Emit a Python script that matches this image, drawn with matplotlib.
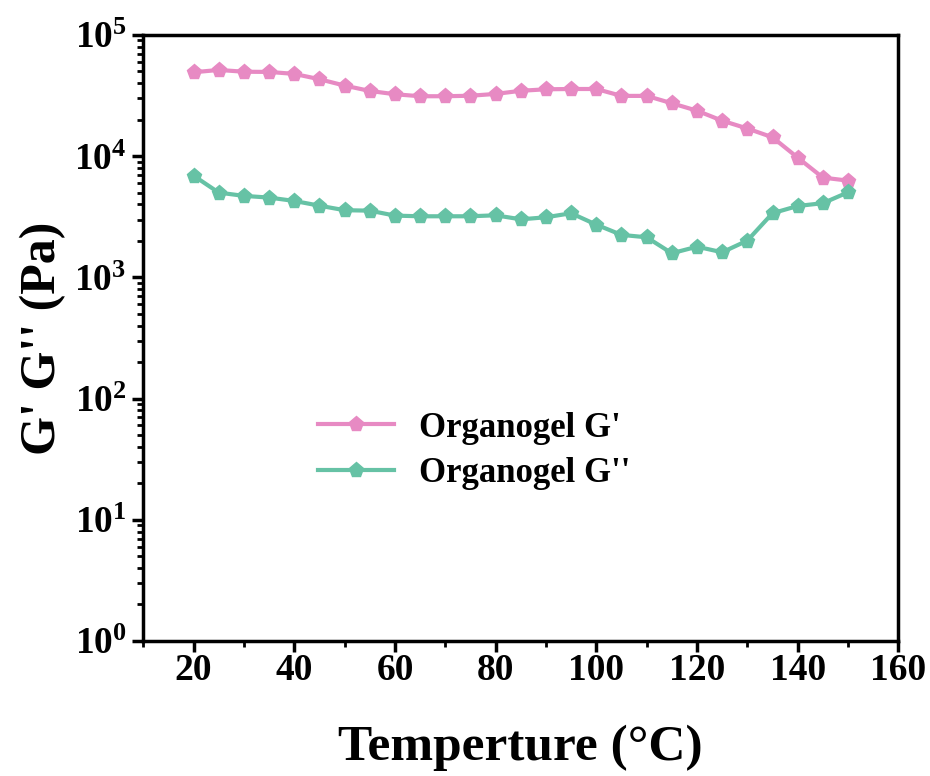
import matplotlib
matplotlib.use("Agg")
import matplotlib.pyplot as plt
from matplotlib.ticker import MultipleLocator, LogLocator, NullFormatter

temps = [20, 25, 30, 35, 40, 45, 50, 55, 60, 65, 70, 75, 80, 85,
         90, 95, 100, 105, 110, 115, 120, 125, 130, 135, 140, 145, 150]
g_storage = [49200, 51400, 49700, 49500, 47700, 43100, 38200, 34500, 32400,
             31200, 31200, 31500, 32600, 34600, 35600, 35800, 35800, 31400,
             31400, 27300, 23700, 19600, 16900, 14300, 9720, 6650, 6280]
g_loss = [6900, 5000, 4700, 4550, 4270, 3900, 3580, 3550, 3230, 3190, 3190,
          3190, 3250, 3010, 3130, 3380, 2720, 2240, 2140, 1580, 1790, 1610,
          2010, 3380, 3880, 4090, 5030]

plt.rcParams.update({
    "font.family": "Liberation Serif",
    "font.weight": "bold",
    "mathtext.fontset": "custom",
    "mathtext.rm": "Liberation Serif:bold",
    "mathtext.it": "Liberation Serif:bold",
    "mathtext.bf": "Liberation Serif:bold",
    "mathtext.default": "rm",
})

fig = plt.figure(figsize=(9.3, 7.76), dpi=100)
ax = fig.add_axes([0.154, 0.174, 0.812, 0.781])

ax.plot(temps, g_storage, color="#E78AC3", marker="p", markersize=11,
        linewidth=3, label="Organogel G'")
ax.plot(temps, g_loss, color="#66C2A5", marker="p", markersize=11,
        linewidth=3, label="Organogel G''")

ax.set_yscale("log")
ax.set_xlim(10, 160)
ax.set_ylim(1, 1e5)
ax.set_xticks([20, 40, 60, 80, 100, 120, 140, 160])
ax.xaxis.set_minor_locator(MultipleLocator(10))
ax.yaxis.set_major_locator(LogLocator(base=10, numticks=10))
ax.yaxis.set_minor_locator(LogLocator(base=10, subs=range(2, 10), numticks=10))
ax.yaxis.set_minor_formatter(NullFormatter())

for s in ax.spines.values():
    s.set_linewidth(2.5)
ax.tick_params(which="major", direction="out", length=8, width=2.5,
               labelsize=27, pad=4)
ax.tick_params(axis="x", which="major", pad=1)
ax.tick_params(which="minor", direction="out", length=4.5, width=2)

ax.set_xlabel("Temperture (\u00b0C)", fontsize=37, fontweight="bold", labelpad=26)
ax.set_ylabel("G' G'' (Pa)", fontsize=36, fontweight="bold", labelpad=6)

ax.legend(loc="upper left", bbox_to_anchor=(0.19, 0.43), frameon=False,
          handlelength=2.2, handletextpad=0.7, labelspacing=0.35,
          prop={"weight": "bold", "size": 25})

fig.savefig("out.png", dpi=100)
